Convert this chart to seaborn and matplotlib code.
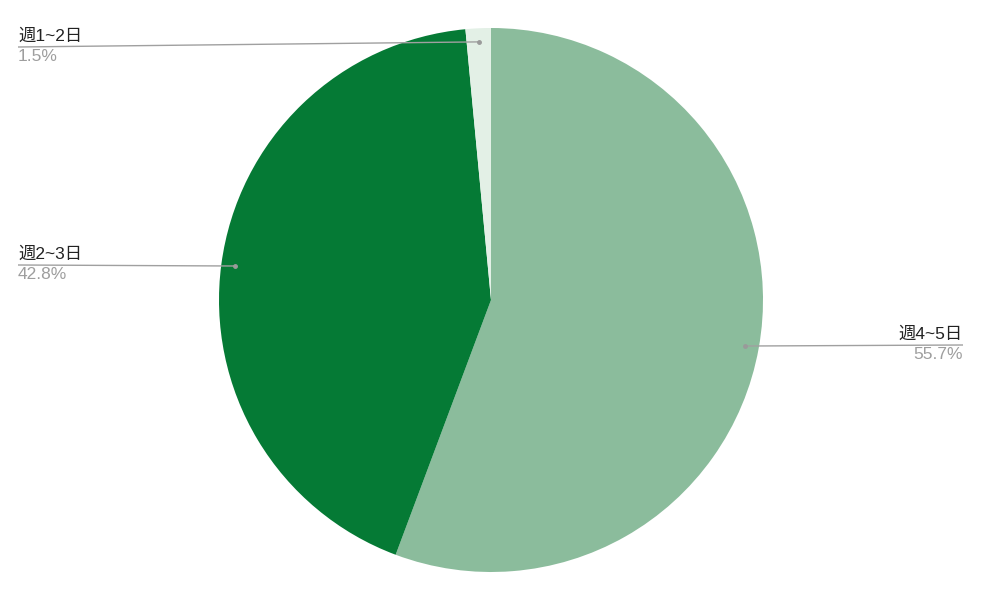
import numpy as np
import matplotlib
matplotlib.use('Agg')
import matplotlib.pyplot as plt
import seaborn as sns

sns.set_theme(style='white')
plt.rcParams['font.family'] = ['Liberation Sans', 'Noto Sans CJK JP', 'DejaVu Sans']

# datos
categorias = ['週4~5日', '週2~3日', '週1~2日']
porcentajes = [55.7, 42.8, 1.5]
colores = ['#8bbc9c', '#057a35', '#e3f0e6']

W, H = 982, 594
fig = plt.figure(figsize=(W / 100, H / 100), dpi=100)
ax = fig.add_axes([0, 0, 1, 1])
ax.set_aspect('equal')
ax.axis('off')

cx, cy, R = 491, 300, 272
# con el eje y invertido, counterclock=True dibuja en sentido horario en pantalla
ax.pie(porcentajes, colors=colores, startangle=-90, counterclock=True,
       center=(cx, cy), radius=R, wedgeprops=dict(linewidth=0))
ax.set_xlim(0, W)
ax.set_ylim(H, 0)

# posiciones de las etiquetas (x del extremo, y de la linea, alineacion)
etiquetas_pos = {
    '週4~5日': (963, 345, 'right'),
    '週2~3日': (18, 265, 'left'),
    '週1~2日': (18, 47, 'left'),
}

acum = 0
for cat, p in zip(categorias, porcentajes):
    medio = (acum + p / 2) / 100
    acum += p
    ang = np.radians(90 - medio * 360)
    dx = cx + 0.95 * R * np.cos(ang)
    dy = cy - 0.95 * R * np.sin(ang)
    lx, ly, ha = etiquetas_pos[cat]
    ax.plot([dx, lx], [dy, ly], color='#a0a0a0', lw=1, solid_capstyle='butt')
    ax.plot([dx], [dy], 'o', color='#9a9a9a', ms=2.5)
    ax.text(lx, ly - 3, cat, ha=ha, va='bottom', fontsize=12.5, color='#222222')
    ax.text(lx, ly + 2, f'{p}%', ha=ha, va='top', fontsize=12.5, color='#9e9e9e')

fig.savefig('out.png', dpi=100)
